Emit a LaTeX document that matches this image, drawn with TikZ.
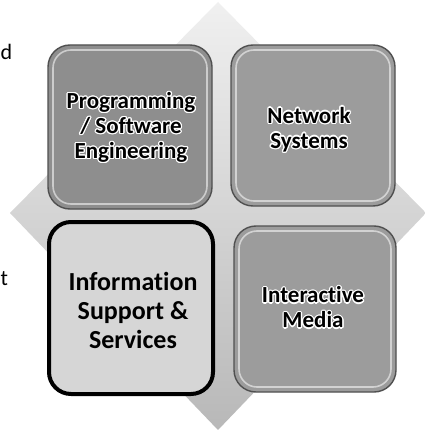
\documentclass[tikz,border=0pt]{standalone}
\usepackage{fontspec}
\setmainfont{Carlito}[Ligatures=NoCommon]
\usepackage[copies]{contour}
\contourlength{1.2pt}
\contournumber{16}
\definecolor{diamondtop}{HTML}{F0F0F0}
\definecolor{diamondbot}{HTML}{B8B8B8}
\definecolor{boxdark}{HTML}{8E8E8E}
\definecolor{boxmid}{HTML}{9C9C9C}
\definecolor{boxlight}{HTML}{D6D6D6}
\definecolor{rimdark}{HTML}{505050}
\tikzset{
  tile/.style={rounded corners=22pt, draw=rimdark, line width=1.4pt},
  rim/.style={rounded corners=18pt, draw=white, opacity=0.55, line width=1.6pt},
  label/.style={align=center, font=\bfseries\fontsize{23}{25}\selectfont, text=black},
  biglabel/.style={align=center, font=\bfseries\fontsize{26}{29}\selectfont, text=black},
  side/.style={font=\fontsize{22}{24}\selectfont, text=black, inner sep=0pt}
}
\begin{document}
\begin{tikzpicture}[x=1pt,y=-1pt]
\useasboundingbox (0,0) rectangle (424,430);
\fill[white] (0,0) rectangle (424,430);
% background diamond
\shade[top color=diamondtop, bottom color=diamondbot] (218,2) -- (426,213) -- (218,430) -- (10,213) -- cycle;
% tiles
\draw[tile, fill=boxdark] (48,45) rectangle (212,209);
\draw[rim] (53,50) rectangle (207,204);
\draw[tile, fill=boxmid] (231,45) rectangle (395,206);
\draw[rim] (236,50) rectangle (390,201);
\draw[tile, fill=boxmid] (234,226) rectangle (396,392);
\draw[rim] (239,231) rectangle (391,387);
\draw[rounded corners=22pt, draw=black, line width=4pt, fill=boxlight] (49,222) rectangle (213,394);
% labels
\node[label] (pse) at (131,128) {\contour{white}{Programming}\\\contour{white}{/ Software}\\\contour{white}{Engineering}};
\node[label] (ns) at (309,130) {\contour{white}{Network}\\\contour{white}{Systems}};
\node[label] (im) at (313,308) {\contour{white}{Interactive}\\\contour{white}{Media}};
\node[biglabel] (iss) at (133,310) {Information\\Support \&\\Services};
% partial text at left edge
\node[side, anchor=base west] (fd) at (0.5,60) {d};
\node[side, anchor=base west] (ft) at (0.5,285) {t};
\end{tikzpicture}
\end{document}
